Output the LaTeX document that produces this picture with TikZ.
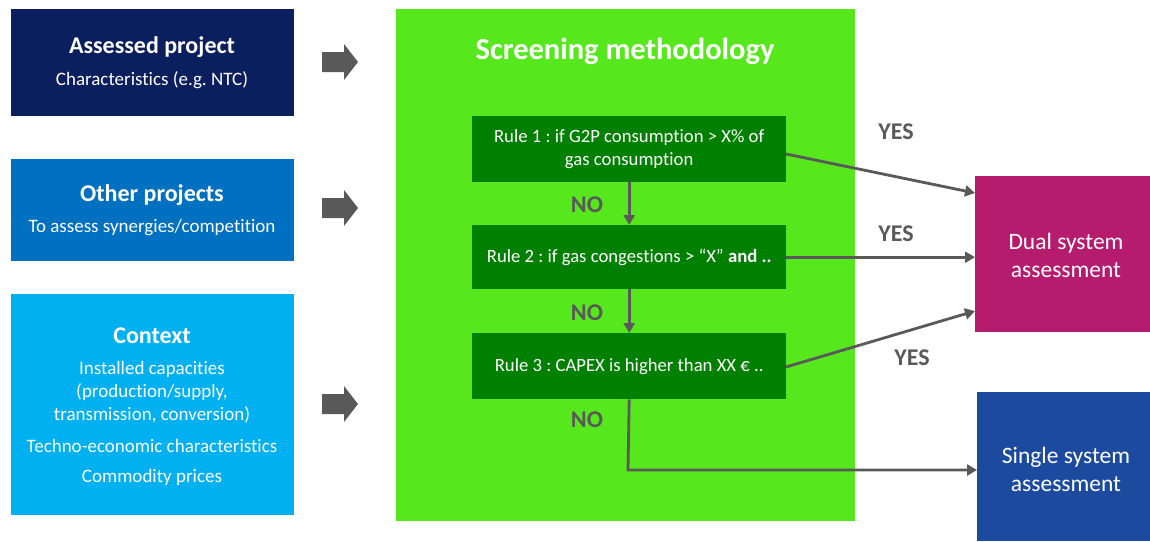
\documentclass[tikz,border=0pt]{standalone}
\usepackage{fontspec}
\setmainfont{Carlito}[Ligatures=NoCommon]
\usetikzlibrary{arrows.meta}
\definecolor{navy}{HTML}{0B1F5E}
\definecolor{otherblue}{HTML}{0070C0}
\definecolor{ctxblue}{HTML}{00B0F0}
\definecolor{brightgreen}{HTML}{56E81C}
\definecolor{darkgreen}{HTML}{008000}
\definecolor{dualmag}{HTML}{B51C6E}
\definecolor{singleblue}{HTML}{1B4A9E}
\definecolor{arrgray}{HTML}{595959}
\tikzset{
  box/.style={rectangle, anchor=north west, inner sep=0pt, align=center, text=white},
  rulebox/.style={box, fill=darkgreen, minimum width=314pt, minimum height=66pt},
  ttl/.style={text=white, inner sep=0pt, font=\bfseries\fontsize{24}{28}\selectfont},
  sub/.style={text=white, inner sep=0pt, align=center, font=\fontsize{19}{23}\selectfont},
  ruletxt/.style={text=white, inner sep=0pt, align=center, font=\fontsize{18.7}{23}\selectfont},
  outtxt/.style={text=white, inner sep=0pt, align=center, font=\fontsize{23.5}{28}\selectfont},
  conn/.style={draw=arrgray, line width=2.8pt, -{Triangle[length=10pt,width=11pt]}},
  lbl/.style={text=arrgray, font=\bfseries\fontsize{24}{28}\selectfont, inner sep=0pt},
  blockarrow/.style={fill=arrgray}
}
\begin{document}
\frenchspacing
\begin{tikzpicture}[x=1pt,y=-1pt]
\useasboundingbox (0,0) rectangle (1150,541);
% left boxes
\node[box, fill=navy, minimum width=283pt, minimum height=107pt] (assessed) at (11,9) {};
\node[ttl] (assessedT) at (152,47) {Assessed project};
\node[sub] (assessedS) at (152,80) {Characteristics (e.g. NTC)};
\node[box, fill=otherblue, minimum width=283pt, minimum height=102pt] (other) at (11,159) {};
\node[ttl] (otherT) at (152,195) {Other projects};
\node[sub] (otherS) at (152,228) {To assess synergies/competition};
\node[box, fill=ctxblue, minimum width=283pt, minimum height=221pt] (context) at (11,294) {};
\node[ttl] (ctxT) at (152,336) {Context};
\node[sub] (ctx1) at (152,392) {Installed capacities\\(production/supply,\\transmission, conversion)};
\node[sub] (ctx2) at (152,446) {Techno-economic characteristics};
\node[sub] (ctx3) at (152,477) {Commodity prices};
% block arrows
\foreach \n/\yy in {a1/62, a2/208, a3/404}{
  \coordinate (\n) at (322,\yy);
  \fill[blockarrow] (\n) ++(0,-10) -- ++(22,0) -- ++(0,-8) -- ++(14,18) -- ++(-14,18) -- ++(0,-8) -- ++(-22,0) -- cycle;
}
% green screening box
\node[box, fill=brightgreen, minimum width=459pt, minimum height=512pt] (screen) at (396,9) {};
\node[text=white, inner sep=0pt, font=\bfseries\fontsize{30.5}{34}\selectfont] (title) at (625,51) {Screening methodology};
% rules
\node[rulebox] (r1) at (472,116) {};
\node[ruletxt] (r1t) at (r1.center) {Rule 1 : if G2P consumption > X\% of\\gas consumption};
\node[rulebox, minimum height=64pt] (r2) at (472,225) {};
\node[ruletxt] (r2t) at (r2.center) {Rule 2 : if gas congestions > “X” \textbf{and ..}};
\node[rulebox] (r3) at (472,333) {};
\node[ruletxt] (r3t) at (r3.center) {Rule 3 : CAPEX is higher than XX € ..};
% outcome boxes
\node[box, fill=dualmag, minimum width=175pt, minimum height=156pt] (dual) at (975,176) {};
\node[outtxt] (dualt) at (1066,255) {Dual system\\assessment};
\node[box, fill=singleblue, minimum width=173pt, minimum height=149pt] (single) at (977,392) {};
\node[outtxt] (singlet) at (1066,469) {Single system\\assessment};
% connectors
\draw[conn] (r1.south) -- (r2.north);
\draw[conn] (r2.south) -- (r3.north);
\coordinate (bend) at (628,470);
\draw[conn] (r3.south) -- (bend) -- (single.west |- bend);
\draw[conn] (786,154) -- (975,193);
\draw[conn] (r2.east) -- (dual.west |- r2.east);
\draw[conn] (786,367) -- (975,311);
% labels
\node[lbl] at (587,205) {NO};
\node[lbl] at (587,313) {NO};
\node[lbl] at (587,420) {NO};
\node[lbl] at (896,132) {YES};
\node[lbl] at (896,234) {YES};
\node[lbl] at (912,358) {YES};
\end{tikzpicture}
\end{document}
